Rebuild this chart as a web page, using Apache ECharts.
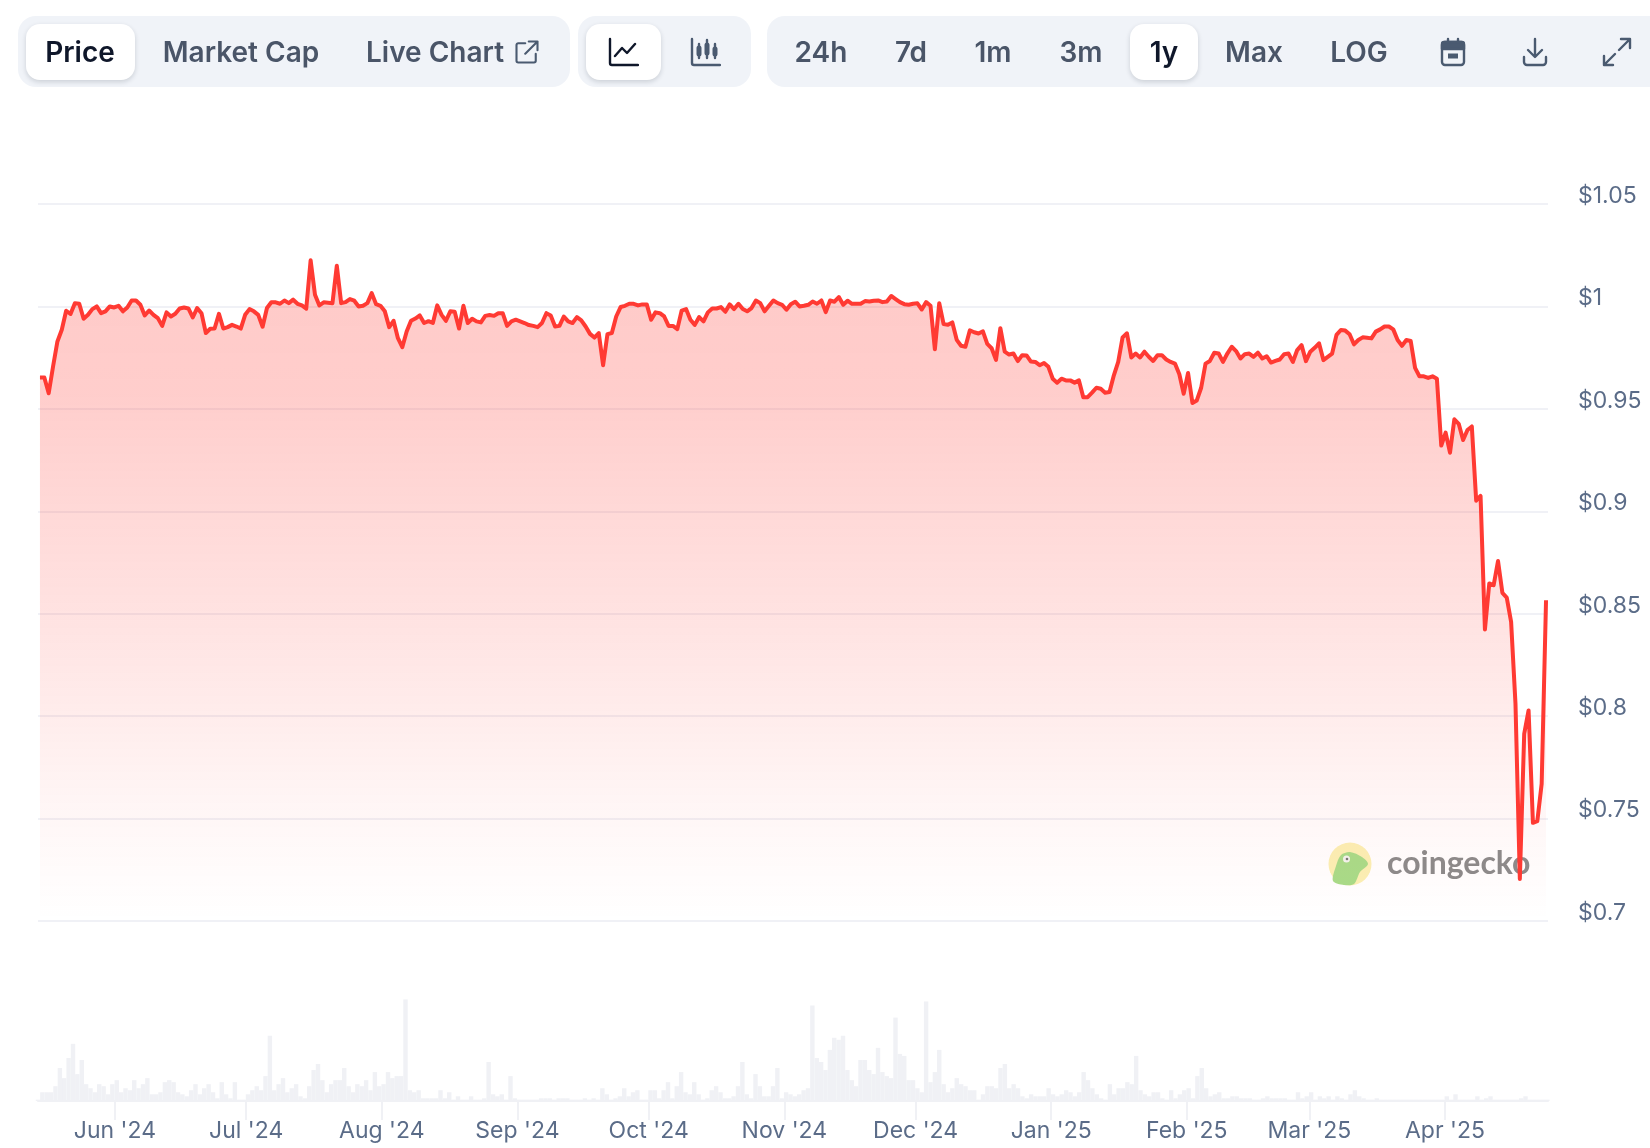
<!DOCTYPE html>
<html>
<head>
<meta charset="utf-8">
<title>Price chart</title>
<script src="https://cdn.jsdelivr.net/npm/echarts@6/dist/echarts.min.js"></script>
<style>
	html, body { margin: 0; padding: 0; background: #fff; }
	#page { position: relative; width: 1650px; height: 1148px; overflow: hidden; font-family: Inter, sans-serif; }
	#chart { position: absolute; left: 0; top: 0; width: 1650px; height: 1148px; }
	.bar { position: absolute; top: 16px; height: 71px; background: #f0f3f8; border-radius: 18px; }
	.on { position: absolute; top: 24px; height: 56px; background: #fff; border-radius: 14px; box-shadow: 0 2px 5px rgba(15,23,42,.16); }
	.tab { position: absolute; top: 34px; line-height: 36px; font-size: 28px; font-weight: 600; color: #4a5568; transform: translateX(-50%); white-space: nowrap; }
	.tab.sel { color: #0f172a; }
	.ico { position: absolute; top: 36px; width: 32px; height: 32px; transform: translateX(-50%); fill: none; stroke: #4a5a70; stroke-width: 2.4; stroke-linecap: round; stroke-linejoin: round; }
	.ico.sel { stroke: #0f172a; }
</style>
</head>
<body>
<div id="page">
	<div id="chart"></div>
	<div class="bar" style="left:18px;width:552px"></div>
	<div class="bar" style="left:578px;width:173px"></div>
	<div class="bar" style="left:767px;width:900px;border-radius:18px 0 0 18px"></div>
	<div class="on" style="left:26px;width:109px"></div>
	<div class="on" style="left:586px;width:75px"></div>
	<div class="on" style="left:1130px;width:68px"></div>
	<span class="tab sel" style="left:80px">Price</span>
	<span class="tab" style="left:241px">Market Cap</span>
	<span class="tab" style="left:435px">Live Chart</span>
	<svg class="ico" style="left:527px;top:38px;width:28px;height:28px" viewBox="0 0 32 32"><path d="M14 6H6a2 2 0 0 0-2 2v18a2 2 0 0 0 2 2h18a2 2 0 0 0 2-2v-8M18 4h10v10M28 4L14 18"/></svg>
	<svg class="ico sel" style="left:623px" viewBox="0 0 32 32"><path d="M3 3v24a2 2 0 0 0 2 2h26M8 20l7-8 5 5 8-9"/></svg>
	<svg class="ico" style="left:705px" viewBox="0 0 32 32"><path d="M3 3v24a2 2 0 0 0 2 2h26M10 8v14M18 4v18M26 8v14"/><path stroke-width="5" d="M10 12v6M18 9v8M26 13v5"/></svg>
	<span class="tab" style="left:821px">24h</span>
	<span class="tab" style="left:911px">7d</span>
	<span class="tab" style="left:993px">1m</span>
	<span class="tab" style="left:1081px">3m</span>
	<span class="tab sel" style="left:1164px">1y</span>
	<span class="tab" style="left:1254px">Max</span>
	<span class="tab" style="left:1359px">LOG</span>
	<svg class="ico" style="left:1453px" viewBox="0 0 32 32"><rect x="5" y="6" width="22" height="23" rx="3"/><path d="M11 3v4M21 3v4"/><path fill="#4a5a70" d="M5 8a2 2 0 0 1 2-2h18a2 2 0 0 1 2 2v5H5z"/><path stroke-width="5" d="M11 20h10" stroke-linecap="butt"/></svg>
	<svg class="ico" style="left:1535px" viewBox="0 0 32 32"><path d="M16 3v17M9 14l7 7 7-7M5 21v5a3 3 0 0 0 3 3h16a3 3 0 0 0 3-3v-5"/></svg>
	<svg class="ico" style="left:1617px" viewBox="0 0 32 32"><path d="M20 3h9v9M29 3L18 14M3 20v9h9M3 29l11-11"/></svg>
</div>
<script>
	// month ticks on the date axis
	var monthTicks = ['2024-06-01', '2024-07-01', '2024-08-01', '2024-09-01', '2024-10-01', '2024-11-01', '2024-12-01', '2025-01-01', '2025-02-01', '2025-03-01', '2025-04-01'];
	var monthLabels = ["Jun '24", "Jul '24", "Aug '24", "Sep '24", "Oct '24", "Nov '24", "Dec '24", "Jan '25", "Feb '25", "Mar '25", "Apr '25"];
	var priceTicks = ['$0.7', '$0.75', '$0.8', '$0.85', '$0.9', '$0.95', '$1', '$1.05'];

	// daily price
	var priceValues = [
		.9653, .9653, .9576, .9707, .9829, .9886, .9979, .9963, 1.0016, 1.0013,
		.9940, .9959, .9987, 1.0, .9967, .9976, 1.0, .9995, 1.0003, .9976,
		.9995, 1.0029, 1.0029, 1.0008, .9956, .9980, .9959, .9943, .9905, .9971,
		.9951, .9964, .9990, .9995, .9990, .9946, .9992, .9967, .9870, .9891,
		.9892, .9964, .9892, .9899, .9910, .9902, .9892, .9959, .9987, .9976,
		.9959, .9901, .9992, 1.0020, 1.0020, 1.0013, 1.0029, 1.0016, 1.0033, 1.0013,
		1.0005, .9989, 1.0225, 1.0057, 1.0005, 1.0020, 1.0018, 1.0016, 1.0199, 1.0016,
		1.0021, 1.0036, 1.0028, 1.0, 1.0003, 1.0016, 1.0065, 1.0011, 1.0003, .9976,
		.9899, .9930, .9845, .9801, .9878, .9930, .9941, .9956, .9919, .9928,
		.9919, 1.0005, .9959, .9930, .9976, .9974, .9892, 1.0003, .9919, .9940,
		.9927, .9922, .9954, .9958, .9954, .9967,
		.9967, .9905, .9927, .9935, .9927, .9919, .9909, .9905, .9899, .9919,
		.9967, .9956, .9902, .9905, .9951, .9927, .9919, .9948, .9932, .9902,
		.9866, .9848, .9870, .9713, .9865, .9870, .9951, .9997, 1.0003, 1.0013,
		1.0013, 1.0005, 1.0010, 1.0010, .9935, .9971, .9967, .9951, .9905, .9905,
		.9889, .9980, .9987, .9935, .9910, .9948, .9927, .9971, .9990, .9990,
		.9997, .9974, 1.0010, .9987, 1.0013, .9987, .9976, .9992, 1.0029, 1.0016,
		.9976, 1.0003, 1.0029, 1.0016, 1.0008, .9984, 1.0011, 1.0023, 1.0, 1.0003,
		1.0008, 1.0024, 1.0013, 1.0029, .9972, 1.0029, 1.0023, 1.0046, 1.0008, 1.0028,
		1.0013, 1.0013, 1.0013, 1.0026, 1.0024, 1.0028, 1.0029, 1.0021, 1.0024, 1.0051,
		1.0036, 1.0021, 1.0011, 1.0008, 1.0013, 1.0015, .9985, 1.0021, 1.0003, .9791,
		1.0016, .9914, .9910, .9922, .9837, .9808, .9803, .9883, .9874, .9868,
		.9878, .9817, .9796, .9739, .9894,
		.9779, .9765, .9770, .9733, .9762, .9761, .9731, .9729, .9713, .9724,
		.9705, .9647, .9628, .9647, .9639, .9639, .9628, .9639, .9557, .9557,
		.9579, .9603, .9598, .9579, .9582, .9664, .9729, .9849, .9869, .9751,
		.9770, .9751, .9779, .9754, .9734, .9762, .9762, .9741, .9729, .9721,
		.9669, .9574, .9675, .9529, .9541, .9603, .9721, .9734, .9774, .9770,
		.9729, .9770, .9803, .9782, .9746, .9767, .9770, .9754, .9774, .9746,
		.9757, .9726, .9734, .9741, .9767, .9770, .9729, .9787, .9811, .9733,
		.9779, .9798, .9820, .9738, .9754, .9770, .9861, .9885, .9882, .9864,
		.9815, .9836, .9849, .9847, .9844, .9877, .9888, .9902, .9902, .9888,
		.9836, .9808, .9836, .9831, .9700, .9659, .9659, .9651, .9659, .9647,
		.9321, .9384, .9286, .9449, .9427, .9348, .9397, .9414, .9052, .9075,
		.8423, .8648, .8639, .8757, .8602, .8579, .8460, .8061, .7205, .7914,
		.8028, .7479, .7487, .7670, .8566
	];

	// daily volume, no unit on the picture so these are relative heights
	var volumeValues = [
		4, 26, 26, 26, 44, 98, 68, 128, 170, 80,
		122, 50, 38, 26, 50, 44, 20, 50, 62, 26,
		38, 32, 62, 38, 50, 68, 20, 20, 26, 56,
		62, 56, 26, 20, 14, 32, 50, 20, 38, 50,
		26, 8, 56, 20, 8, 56, 4, 4, 20, 32,
		44, 32, 74, 194, 32, 50, 68, 26, 38, 50,
		14, 8, 44, 92, 110, 62, 26, 50, 62, 62,
		98, 44, 26, 50, 44, 62, 32, 86, 44, 50,
		86, 68, 74, 74, 302, 32, 26, 32, 8, 8,
		8, 8, 32, 8, 26, 4, 14, 4, 4, 14,
		4, 4, 8, 116, 20, 14, 20, 4, 74, 8,
		4, 4, 4, 4, 4, 8, 8, 8,
		4, 8, 8, 8, 4, 4, 4, 8, 4, 8,
		4, 38, 20, 4, 8, 14, 38, 14, 26, 32,
		4, 4, 32, 32, 8, 32, 56, 8, 44, 86,
		26, 20, 56, 20, 4, 8, 32, 44, 26, 8,
		8, 14, 44, 116, 20, 8, 80, 44, 14, 14,
		44, 98, 8, 26, 20, 14, 20, 32, 38, 284,
		128, 116, 92, 152, 188, 182, 194, 92, 62, 44,
		122, 122, 92, 80, 158, 86, 74, 68, 248, 140,
		134, 62, 62, 38, 26, 296, 56, 86, 152, 50,
		26, 38, 68, 50, 44, 32, 32, 4, 20, 44,
		44, 38, 98, 110, 38, 50, 38, 14, 8, 20,
		14, 14, 14, 38, 20, 14, 20, 32, 26, 14,
		26, 86, 62, 38, 20, 8,
		4, 50, 20, 38, 38, 56, 50, 134, 32, 20,
		14, 26, 26, 8, 4, 32, 8, 20, 32, 38,
		8, 74, 98, 38, 14, 20, 26, 8, 8, 14,
		14, 8, 8, 8, 4, 4, 8, 14, 8, 8,
		8, 8, 4, 4, 26, 8, 14, 26, 4, 14,
		8, 14, 4, 14, 8, 4, 20, 32, 14, 8,
		4, 4, 8, 4, 4, 4, 4, 4, 4, 4,
		4, 4, 4, 4, 4, 4, 4, 4, 14, 4,
		20, 4, 4, 4, 4, 14, 4, 8, 14, 4,
		4, 4, 4, 4, 4, 8, 14, 4, 4, 4,
		4, 4
	];

	var firstDay = Date.UTC(2024, 4, 14, 10);
	var oneDay = 86400000;

	var pairUp = function (values) {
		var arr = [];
		for (var i = 0; i < values.length; i++) {
			arr.push([firstDay + i * oneDay, values[i]]);
		}
		return arr;
	};
	var tickTimes = monthTicks.map(function (d) {
		return new Date(d + 'T00:00:00Z').getTime();
	});

	var mychart = echarts.init(document.getElementById('chart'), null, { renderer: 'canvas' });
	var option = {
		animation: false,
		textStyle: { fontFamily: 'Inter' },
		grid: [
			{ left: 38, width: 1510, top: 204, height: 717 },
			{ left: 38, width: 1510, top: 990, height: 111 }
		],
		xAxis: [
			{
				type: 'value',
				gridIndex: 0,
				min: firstDay - 0.45 * oneDay,
				max: firstDay + 345.45 * oneDay,
				axisLine: { show: false },
				axisTick: { show: false },
				axisLabel: { show: false },
				splitLine: { show: false }
			},
			{
				type: 'value',
				gridIndex: 1,
				min: firstDay,
				max: firstDay + 345.14 * oneDay,
				axisLine: { show: true, onZero: false, lineStyle: { color: '#f0f1f5', width: 2 } },
				axisTick: { show: true, length: 19, customValues: tickTimes, lineStyle: { color: '#f0f1f5', width: 2 } },
				axisLabel: {
					show: true,
					customValues: tickTimes,
					margin: 19,
					fontSize: 23,
					color: '#5b6c88',
					fontFamily: 'Inter',
					hideOverlap: false,
					showMinLabel: true,
					showMaxLabel: true,
					formatter: function (value) {
						return monthLabels[tickTimes.indexOf(value)] || '';
					}
				},
				splitLine: { show: false }
			}
		],
		yAxis: [
			{
				type: 'value',
				gridIndex: 0,
				min: 0.7,
				max: 1.05,
				interval: 0.05,
				position: 'right',
				axisLine: { show: false },
				axisTick: { show: false },
				axisLabel: {
					margin: 30,
					fontSize: 23,
					color: '#5b6c88',
					fontFamily: 'Inter',
					align: 'left',
					verticalAlign: 'bottom',
					lineHeight: 16,
					formatter: function (value) {
						return priceTicks[Math.round((value - 0.7) / 0.05)];
					}
				},
				splitLine: { show: true, lineStyle: { color: '#f0f1f6', width: 2 } }
			},
			{
				type: 'value',
				gridIndex: 1,
				min: 0,
				max: 330,
				axisLine: { show: false },
				axisTick: { show: false },
				axisLabel: { show: false },
				splitLine: { show: false }
			}
		],
		graphic: [
			{ type: 'circle', z: 0, shape: { cx: 1350, cy: 864, r: 21.5 }, style: { fill: '#fbf0b4' } },
			{
				type: 'polygon',
				z: 0,
				shape: {
					points: [[1333, 881], [1336, 866], [1341, 855], [1350, 852], [1362, 857], [1368, 864], [1360, 872], [1354, 884], [1344, 885]],
					smooth: 0.3
				},
				style: { fill: '#a8dc88' }
			},
			{ type: 'circle', z: 0, shape: { cx: 1346.5, cy: 859, r: 3.5 }, style: { fill: '#f4f4ee' } },
			{ type: 'circle', z: 0, shape: { cx: 1347, cy: 859, r: 1.3 }, style: { fill: '#777' } },
			{
				type: 'text',
				z: 0,
				x: 1387,
				y: 864,
				style: { text: 'coingecko', fill: '#8b8b8b', font: 'bold 32px Lato', textVerticalAlign: 'middle' }
			}
		],
		series: [
			{
				name: 'Price',
				type: 'line',
				xAxisIndex: 0,
				yAxisIndex: 0,
				data: pairUp(priceValues),
				showSymbol: false,
				lineStyle: { color: '#ff3a33', width: 4, join: 'round' },
				itemStyle: { color: '#ff3a33' },
				areaStyle: {
					origin: 'start',
					opacity: 1,
					color: {
						type: 'linear', x: 0, y: 0, x2: 0, y2: 1,
						colorStops: [
							{ offset: 0, color: 'rgba(255,58,51,0.27)' },
							{ offset: 0.2, color: 'rgba(255,58,51,0.25)' },
							{ offset: 0.55, color: 'rgba(255,58,51,0.14)' },
							{ offset: 0.85, color: 'rgba(255,58,51,0.04)' },
							{ offset: 1, color: 'rgba(255,58,51,0)' }
						]
					}
				}
			},
			{
				name: 'Volume',
				type: 'bar',
				xAxisIndex: 1,
				yAxisIndex: 1,
				data: pairUp(volumeValues),
				barWidth: 4.4,
				itemStyle: { color: '#f0f1f5' }
			}
		]
	};
	mychart.setOption(option);
</script>
</body>
</html>
